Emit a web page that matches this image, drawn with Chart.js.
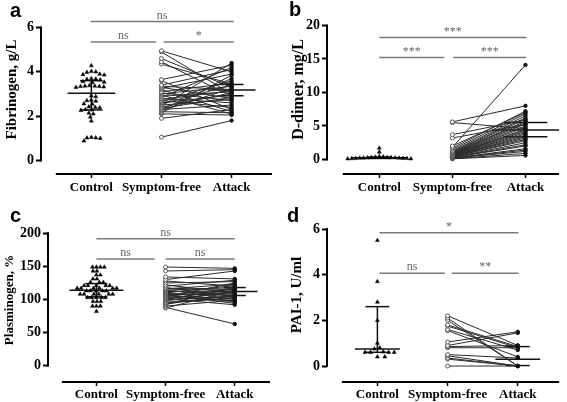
<!DOCTYPE html>
<html>
<head>
<meta charset="utf-8">
<script src="https://cdn.jsdelivr.net/npm/chart.js@4.4.1/dist/chart.umd.min.js"></script>
<style>
html, body { margin: 0; padding: 0; background: #fff; }
#wrap { position: relative; width: 567px; height: 402px; overflow: hidden; }
#wrap canvas { position: absolute; }
.tag { position: absolute; font: bold 20px "Liberation Sans", Arial, sans-serif; line-height: 20px; color: #000; }
</style>
</head>
<body>
<div id="wrap">
  <canvas id="chartA" width="284" height="200" style="left:0;top:0"></canvas>
  <canvas id="chartB" width="283" height="200" style="left:284px;top:0"></canvas>
  <canvas id="chartC" width="284" height="202" style="left:0;top:200px"></canvas>
  <canvas id="chartD" width="283" height="202" style="left:284px;top:200px"></canvas>
  <div class="tag" style="left:10px;top:0px">a</div>
  <div class="tag" style="left:289px;top:-1px">b</div>
  <div class="tag" style="left:10px;top:205px">c</div>
  <div class="tag" style="left:287px;top:205px">d</div>
</div>
<script>
const categories = ['Control', 'Symptom-free', 'Attack'];

// a - Fibrinogen, g/L
const fibTicks = [0, 2, 4, 6];
const fibControl = [4.28, 4.02, 4.0, 3.98, 3.9, 3.88, 3.86, 3.7, 3.68, 3.66, 3.64, 3.56, 3.54, 3.52,
    3.38, 3.36, 3.36, 3.34, 3.34, 3.32, 3.3, 2.92, 2.88, 2.72, 2.7, 2.68, 2.56, 2.54, 2.42, 2.4,
    2.38, 2.3, 2.28, 2.26, 2.14, 2.1, 1.96, 1.78, 1.04, 1.02, 1.02, 1.0, 0.88];
const fibSymptomFree = [4.95, 4.9, 4.6, 4.45, 4.35, 3.65, 3.6, 3.4, 3.35, 3.3, 3.25, 3.2, 3.1, 3.05, 3.0, 2.95,
    2.9, 2.85, 2.8, 2.75, 2.7, 2.65, 2.6, 2.55, 2.5, 2.45, 2.4, 2.35, 2.3, 2.3, 2.25, 2.2, 2.15, 2.1, 1.9, 1.05];
const fibAttack = [4.0, 3.0, 3.3, 2.9, 3.45, 4.3, 2.3, 4.1, 3.2, 2.8, 3.9, 2.2, 3.5, 2.7, 3.35, 2.1,
    3.1, 4.2, 2.6, 3.15, 2.4, 3.6, 2.95, 3.4, 2.75, 4.4, 3.05, 2.85, 3.7, 2.5, 3.25, 2.15, 3.85, 2.05, 2.3, 1.8];
const fibControlStats = [2.28, 3.03, 3.6];   // q1, median, q3
const fibAttackStats = [2.92, 3.18, 3.43];
const fibSig = ['ns', 'ns', '*'];            // control-attack, control-SF, SF-attack

// b - D-dimer, mg/L
const ddTicks = [0, 5, 10, 15, 20];
const ddControl = [0.1, 0.1, 0.12, 0.15, 0.15, 0.18, 0.2, 0.2, 0.22, 0.25, 0.25, 0.28, 0.3, 0.3, 0.35, 0.4, 0.45, 1.1, 1.7];
const ddSymptomFree = [5.6, 5.5, 3.7, 3.2, 2.0, 1.8, 1.7, 1.5, 1.3, 1.2, 1.1, 1.0, 1.0, 0.9, 0.9, 0.8, 0.8,
    0.7, 0.7, 0.6, 0.6, 0.5, 0.5, 0.5, 0.4, 0.4, 0.3, 0.3, 0.3, 0.2, 0.2, 0.2, 0.1, 0.1];
const ddAttack = [8.0, 4.6, 5.9, 5.2, 7.0, 14.1, 7.2, 6.8, 6.5, 6.2, 6.0, 5.7, 5.5, 5.3, 5.0, 4.8, 4.5,
    4.4, 4.2, 4.0, 3.8, 3.6, 3.4, 3.2, 3.0, 2.8, 2.5, 2.2, 2.0, 1.6, 1.4, 1.2, 0.9, 0.6];
const ddControlStats = [0.15, 0.25, 0.35];
const ddAttackStats = [3.4, 4.4, 5.5];
const ddSig = ['***', '***', '***'];

// c - Plasminogen, %
const plgTicks = [0, 50, 100, 150, 200];
const plgControl = [149, 149, 149, 149, 143, 143, 137, 137, 131, 131, 126, 126, 126, 121, 121, 121, 121, 121,
    117, 117, 117, 117, 117, 117, 113, 113, 113, 113, 113, 108, 108, 108, 108, 108, 108,
    103, 103, 103, 103, 103, 97, 97, 97, 90, 90, 90, 82];
const plgSymptomFree = [149, 143, 134, 130, 128, 125, 122, 120, 118, 117, 116, 115, 114, 113, 112, 111, 110, 109,
    108, 107, 106, 105, 104, 103, 102, 101, 100, 99, 98, 96, 95, 93, 92, 90, 88, 87];
const plgAttack = [147, 145, 131, 143, 120, 127, 110, 129, 104, 115, 123, 100, 118, 108, 113, 96, 121, 106,
    94, 116, 111, 102, 125, 98, 109, 92, 117, 105, 112, 101, 103, 107, 119, 99, 63, 114];
const plgControlStats = [104, 114, 124];
const plgAttackStats = [106, 112, 118];
const plgSig = ['ns', 'ns', 'ns'];

// d - PAI-1, U/ml
const paiTicks = [0, 2, 4, 6];
const paiControl = [5.5, 3.7, 2.8, 2.0, 1.0, 0.8, 0.75, 0.62, 0.6, 0.6, 0.6, 0.6, 0.4, 0.4];
const paiSymptomFree = [2.2, 2.1, 2.0, 1.8, 1.75, 1.6, 1.55, 1.05, 0.9, 0.85, 0.8, 0.5, 0.45, 0.35, 0.3, 0.0];
const paiAttack = [0.9, 0.0, 0.0, 0.85, 0.8, 0.7, 0.4, 1.5, 1.45, 0.9, 0.8, 0.35, 0.0, 0.0, 0.0, 0.0];
const paiControlStats = [0.6, 0.75, 2.6];
const paiAttackStats = [0.02, 0.3, 0.85];
const paiSig = ['*', 'ns', '**'];

const SERIF = "'Liberation Serif', 'Times New Roman', serif";

// panel layout (sizes in px, ranges in axis units)
const panels = [
    { id: 'chartA', title: 'Fibrinogen, g/L', titleSize: 15, titlePad: 3, ticks: fibTicks,
      control: fibControl, sf: fibSymptomFree, attack: fibAttack, cStats: fibControlStats, aStats: fibAttackStats, sig: fibSig,
      W: 284, H: 200, left: 41, top: 0, bottomH: 26, right: 2, tickPad: 2,
      yMin: -0.614, yMax: 7.02, xMin: -0.718, xMax: 2.676, xLine: [-0.507, 2.577],
      cMedW: 0.34, cIqrW: 0.16, aMedW: 0.34, aIqrW: 0.17, swarmD: 4.2,
      brackets: [[-0.01, 2.03, 6.27], [-0.01, 0.92, 5.35], [1.03, 2.03, 5.35]] },
    { id: 'chartB', title: 'D-dimer, mg/L', titleSize: 16, titlePad: 5, ticks: ddTicks,
      control: ddControl, sf: ddSymptomFree, attack: ddAttack, cStats: ddControlStats, aStats: ddAttackStats, sig: ddSig,
      W: 283, H: 200, left: 43, top: 0, bottomH: 26, right: 2, tickPad: 2,
      yMin: -2.17, yMax: 23.04, xMin: -0.716, xMax: 2.5, xLine: [-0.5, 2.46],
      cMedW: 0.39, cIqrW: 0.16, aMedW: 0.46, aIqrW: 0.3, swarmD: 3.6,
      brackets: [[0, 2.01, 18.2], [0, 0.89, 15.2], [1.01, 2.01, 15.2]] },
    { id: 'chartC', title: 'Plasminogen, %', titleSize: 13, titlePad: 2, ticks: plgTicks,
      control: plgControl, sf: plgSymptomFree, attack: plgAttack, cStats: plgControlStats, aStats: plgAttackStats, sig: plgSig,
      W: 284, H: 202, left: 48, top: 18, bottomH: 20, right: 2, tickPad: 1,
      yMin: -24.6, yMax: 223, xMin: -0.7, xMax: 2.64, xLine: [-0.5, 2.51],
      cMedW: 0.39, cIqrW: 0.16, aMedW: 0.33, aIqrW: 0.16, swarmD: 4.0,
      brackets: [[0, 2.0, 191.5], [0, 0.84, 161], [1.0, 2.0, 161]] },
    { id: 'chartD', title: 'PAI-1, U/ml', titleSize: 15, titlePad: 4, ticks: paiTicks,
      control: paiControl, sf: paiSymptomFree, attack: paiAttack, cStats: paiControlStats, aStats: paiAttackStats, sig: paiSig,
      W: 283, H: 202, left: 43, top: 8, bottomH: 20, right: 2, tickPad: 1,
      yMin: -0.70, yMax: 6.92, xMin: -0.718, xMax: 2.63, xLine: [-0.507, 2.59],
      cMedW: 0.32, cIqrW: 0.17, aMedW: 0.32, aIqrW: 0.17, swarmD: 5.2,
      brackets: [[0.03, 2.01, 5.84], [0.03, 0.96, 4.06], [1.06, 2.01, 4.06]] }
];

// beeswarm placement of the control points (like the prism scatter plot)
function swarm(values, cx, yPx, xPx, d) {
    const placed = [];
    const out = new Array(values.length);
    const order = values.map((v, i) => i).sort((a, b) => values[b] - values[a]);
    for (const i of order) {
        const py = values[i] * yPx;
        let best = 0;
        for (let k = 0; k < 600; k++) {
            const off = (k % 2 ? 1 : -1) * Math.ceil(k / 2) * 0.5;
            if (placed.every(q => (q.px - off) ** 2 + (q.py - py) ** 2 >= d * d)) { best = off; break; }
        }
        placed.push({ px: best, py: py });
        out[i] = { x: cx + best / xPx, y: values[i] };
    }
    return out;
}

function statSegments(cx, st, medW, iqrW, stem) {
    const [q1, med, q3] = st;
    const segs = [
        [[cx - medW, med], [cx + medW, med]],
        [[cx - iqrW, q1], [cx + iqrW, q1]],
        [[cx - iqrW, q3], [cx + iqrW, q3]]
    ];
    if (stem) segs.push([[cx, q1], [cx, q3]]);
    return segs;
}

const prismPlugin = {
    id: 'prism',
    afterDatasetsDraw(chart, args, o) {
        const { ctx, chartArea, scales: { x, y } } = chart;
        ctx.save();
        ctx.strokeStyle = '#000';
        ctx.lineWidth = 2;
        // y axis only from 0 to the top tick, x axis offset below it
        ctx.beginPath();
        ctx.moveTo(chartArea.left, y.getPixelForValue(0) + 1);
        ctx.lineTo(chartArea.left, y.getPixelForValue(o.ticks[o.ticks.length - 1]) - 1);
        ctx.stroke();
        ctx.beginPath();
        ctx.moveTo(x.getPixelForValue(o.xLine[0]), chartArea.bottom);
        ctx.lineTo(x.getPixelForValue(o.xLine[1]), chartArea.bottom);
        ctx.stroke();
        // significance bars
        ctx.strokeStyle = '#7a7a7a';
        ctx.fillStyle = '#666';
        ctx.lineWidth = 1.5;
        ctx.font = '12px ' + SERIF;
        ctx.textAlign = 'center';
        ctx.textBaseline = 'bottom';
        o.brackets.forEach((b, i) => {
            const x1 = x.getPixelForValue(b[0]);
            const x2 = x.getPixelForValue(b[1]);
            const yy = y.getPixelForValue(b[2]);
            ctx.beginPath();
            ctx.moveTo(x1, yy);
            ctx.lineTo(x2, yy);
            ctx.stroke();
            ctx.fillText(o.sig[i], (x1 + x2) / 2, yy);
        });
        ctx.restore();
    }
};

panels.forEach(p => {
    const yPx = (p.H - p.top - p.bottomH) / (p.yMax - p.yMin);
    const xPx = (p.W - p.left - p.right) / (p.xMax - p.xMin);
    const datasets = [];

    statSegments(0, p.cStats, p.cMedW, p.cIqrW, true)
        .concat(statSegments(2, p.aStats, p.aMedW, p.aIqrW, false))
        .forEach(seg => datasets.push({
            data: seg.map(([x, y]) => ({ x: x, y: y })),
            showLine: true, pointRadius: 0, borderColor: '#111', borderWidth: 1.5, order: 3
        }));

    datasets.push({
        data: swarm(p.control, 0, yPx, xPx, p.swarmD),
        showLine: false, pointStyle: 'triangle', pointRadius: 2.3,
        backgroundColor: '#000', borderColor: '#000', borderWidth: 0.5, order: 2
    });

    p.sf.forEach((v, i) => datasets.push({
        data: [{ x: 1, y: v }, { x: 2, y: p.attack[i] }],
        showLine: true, borderColor: '#2a2a2a', borderWidth: 1,
        pointRadius: [2, 1.7], pointStyle: 'circle',
        pointBackgroundColor: ['#fff', '#111'], pointBorderColor: ['#555', '#111'], pointBorderWidth: 1,
        order: 1
    }));

    const font = { family: SERIF, size: 13, weight: 'bold' };

    new Chart(document.getElementById(p.id), {
        type: 'scatter',
        data: { datasets: datasets },
        options: {
            responsive: false,
            animation: false,
            events: [],
            clip: false,
            layout: { padding: { left: 0, right: p.right, top: p.top, bottom: 0 } },
            plugins: {
                legend: { display: false },
                tooltip: { enabled: false },
                prism: { ticks: p.ticks, xLine: p.xLine, brackets: p.brackets, sig: p.sig }
            },
            scales: {
                x: {
                    type: 'linear', min: p.xMin, max: p.xMax,
                    afterBuildTicks: s => { s.ticks = [0, 1, 2].map(v => ({ value: v })); },
                    afterFit: s => { s.height = p.bottomH; s.paddingLeft = 0; s.paddingRight = 0; },
                    border: { display: false },
                    grid: { drawOnChartArea: false, drawTicks: true, tickLength: 4, color: '#000', tickColor: '#000', tickWidth: 1.5 },
                    ticks: { callback: v => categories[v], autoSkip: false, maxRotation: 0, minRotation: 0,
                             color: '#000', font: font, padding: p.tickPad }
                },
                y: {
                    type: 'linear', min: p.yMin, max: p.yMax,
                    afterBuildTicks: s => { s.ticks = p.ticks.map(v => ({ value: v })); },
                    afterFit: s => { s.width = p.left; s.paddingTop = 0; s.paddingBottom = 0; },
                    border: { display: false },
                    grid: { drawOnChartArea: false, drawTicks: true, tickLength: 5, color: '#000', tickColor: '#000', tickWidth: 2 },
                    ticks: { color: '#000', font: { family: SERIF, size: 14, weight: 'bold' }, padding: 2 },
                    title: { display: true, text: p.title, color: '#000',
                             font: { family: SERIF, size: p.titleSize, weight: 'bold' },
                             padding: { top: p.titlePad, bottom: 0 } }
                }
            }
        },
        plugins: [prismPlugin]
    });
});
</script>
</body>
</html>
